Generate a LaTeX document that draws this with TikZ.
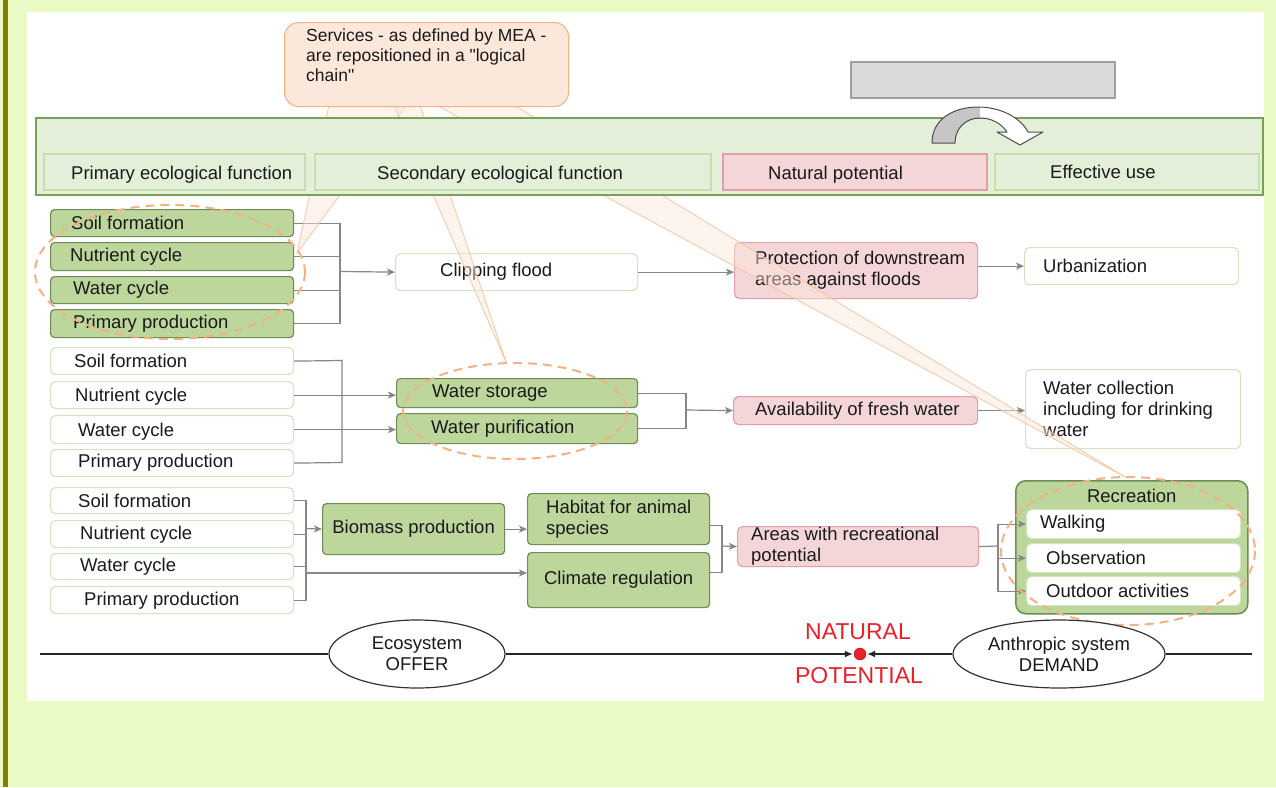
\documentclass[tikz,border=0pt]{standalone}
\usepackage{fontspec}
\setmainfont{Liberation Sans}
\newfontfamily\qfont{Liberation Sans}
\usetikzlibrary{arrows.meta,shapes.geometric,calc}
\definecolor{pagebg}{RGB}{234,250,196}
\definecolor{oliveb}{RGB}{128,128,0}
\definecolor{hdrfill}{RGB}{227,239,217}
\definecolor{hdrdraw}{RGB}{122,160,84}
\definecolor{hinner}{RGB}{197,222,172}
\definecolor{gfill}{RGB}{188,214,155}
\definecolor{gdraw}{RGB}{110,140,85}
\definecolor{pfill}{RGB}{244,214,217}
\definecolor{pdraw}{RGB}{226,160,166}
\definecolor{wdraw}{RGB}{214,228,198}
\definecolor{conncol}{RGB}{135,135,135}
\definecolor{peach}{RGB}{244,177,131}
\definecolor{callfill}{RGB}{252,232,218}
\definecolor{natred}{RGB}{232,32,42}
\definecolor{txtcol}{RGB}{26,26,26}
\newcommand\myrect[6]{%
  \pgfmathsetmacro\bw{#5-#3}%
  \pgfmathsetmacro\bh{#6-#4}%
  \node[#2, minimum width=\bw pt, minimum height=\bh pt, anchor=north west, inner sep=0pt] (#1) at (#3,#4) {};%
}
\newcommand\mybox[8]{%
  \myrect{#1}{#2}{#3}{#4}{#5}{#6}%
  \node[txt, anchor=west] (#1-t) at ([xshift=#7 pt]#1.west) {#8};%
}
\newcommand\myboxy[9]{%
  \myrect{#1}{#2}{#3}{#4}{#5}{#6}%
  \node[txt, anchor=west] (#1-t) at ([xshift=#7 pt, yshift=#8 pt]#1.west) {#9};%
}
\newcommand\myboxc[7]{%
  \myrect{#1}{#2}{#3}{#4}{#5}{#6}%
  \node[txt, align=center] (#1-t) at (#1.center) {#7};%
}
\begin{document}
\begin{tikzpicture}[x=1pt,y=-1pt, font=\fontsize{18.5}{21}\selectfont,
 txt/.style={inner sep=0pt, align=left, text=txtcol},
 gbox/.style={draw=gdraw, fill=gfill, line width=1.2pt, rounded corners=4pt},
 pbox/.style={draw=pdraw, fill=pfill, line width=1.2pt, rounded corners=5pt},
 wbox/.style={draw=wdraw, fill=white, line width=1.2pt, rounded corners=5pt},
 hin/.style={draw=hinner, fill=hdrfill, line width=1.5pt},
 hpink/.style={draw=pdraw, fill=pfill, line width=1.5pt},
 conn/.style={draw=conncol, line width=1.2pt},
 arr/.style={conn, -{Stealth[length=8pt,width=7pt,inset=2pt]}},
 dell/.style={draw=peach, dash pattern=on 9pt off 6pt, line width=2pt},
 wedgeshape/.style={fill=callfill, fill opacity=0.45, draw=peach!80, draw opacity=0.9, line width=0.8pt},
 eell/.style={ellipse, draw=black!80, fill=white, line width=1.2pt, inner sep=0pt, align=center, text=txtcol, minimum height=68pt},
 bline/.style={draw=black!85, line width=1.3pt},
 barr/.style={bline, -{Latex[length=8pt,width=7pt]}, shorten >=1pt},
]
\useasboundingbox (0,0) rectangle (1276,787);
\fill[pagebg] (0,0) rectangle (1276,787);
\fill[oliveb] (3,0) rectangle (8,787);
\fill[white] (27,12) rectangle (1264,701);

% group 1
\mybox{g1a}{gbox}{50}{209}{293}{236}{21}{Soil formation}
\mybox{g1b}{gbox}{50}{242}{293}{270}{20}{Nutrient cycle}
\mybox{g1c}{gbox}{50}{276}{293}{303}{23}{Water cycle}
\mybox{g1d}{gbox}{50}{309}{293}{337}{23}{Primary production}
\mybox{cf}{wbox}{395}{253}{637}{290}{45}{Clipping flood}
\mybox{pr}{pbox}{734}{242}{977}{298}{21}{Protection of downstream\\areas against floods}
\mybox{ur}{wbox}{1024}{247}{1238}{284}{19}{Urbanization}
% group 2
\mybox{w2a}{wbox}{50}{347}{293}{374}{24}{Soil formation}
\myboxy{w2b}{wbox}{50}{381}{293}{408}{25}{-2}{Nutrient cycle}
\myboxy{w2c}{wbox}{50}{415}{293}{443}{28}{-2}{Water cycle}
\mybox{w2d}{wbox}{50}{449}{293}{476}{28}{Primary production}
\mybox{ws}{gbox}{396}{378}{637}{407}{36}{Water storage}
\mybox{wp}{gbox}{396}{413}{637}{443}{35}{Water purification}
\mybox{av}{pbox}{733}{396}{977}{424}{22}{Availability of fresh water}
\mybox{wc}{wbox}{1025}{369}{1240}{448}{18}{Water collection\\including for drinking\\water}
% group 3
\mybox{w3a}{wbox}{50}{487}{293}{513}{28}{Soil formation}
\myboxy{w3b}{wbox}{50}{520}{293}{547}{30}{-1}{Nutrient cycle}
\mybox{w3c}{wbox}{50}{553}{293}{579}{30}{Water cycle}
\myboxy{w3d}{wbox}{50}{586}{293}{613}{34}{-1}{Primary production}
\myboxc{bio}{gbox}{322}{503}{504}{554}{Biomass production}
\mybox{hab}{gbox}{527}{493}{709}{544}{19}{Habitat for animal\\species}
\myboxc{cl}{gbox}{527}{552}{709}{607}{Climate regulation}
\mybox{ar}{pbox}{737}{526}{978}{566}{14}{Areas with recreational\\potential}
\myrect{rec}{gbox, rounded corners=10pt, line width=1.5pt}{1015}{480}{1247}{613}
\node[txt, anchor=center] (rec-t) at ([yshift=-16pt]rec.north) {Recreation};
\mybox{wk}{wbox}{1026}{509}{1240}{538}{14}{Walking}
\mybox{ob}{wbox}{1026}{543}{1240}{572}{20}{Observation}
\mybox{od}{wbox}{1026}{576}{1240}{605}{20}{Outdoor activities}

% connectors group 1
\coordinate (j1) at (340,271.5);
\foreach \n in {g1a,g1b,g1c,g1d} \draw[conn] (\n.east) -| (j1);
\draw[arr] (j1) -- (cf.west);
\draw[arr] (cf.east) -- (cf.east -| pr.west);
\draw[arr] (pr.east |- ur.west) -- (ur.west);
% connectors group 2
\coordinate (j2) at (342,360.5);
\coordinate (j2b) at (342,462.5);
\draw[conn] (w2a.east) -- (j2) -- (j2b) -- (w2d.east);
\draw[arr] (w2b.east) -- (w2b.east -| ws.west);
\draw[arr] (w2c.east) -- (w2c.east -| wp.west);
\coordinate (j2r) at (686,410);
\draw[conn] (ws.east) -| (j2r);
\draw[conn] (wp.east) -| (j2r);
\draw[arr] (j2r) -- (av.west);
\draw[arr] (av.east) -- (av.east -| wc.west);
% connectors group 3
\coordinate (j3) at (306,528.5);
\coordinate (j3b) at (306,573);
\foreach \n in {w3a,w3b,w3c,w3d} \draw[conn] (\n.east) -| (j3);
\draw[arr] (j3) -- (bio.west);
\draw[arr] (j3b) -- (j3b -| cl.west);
\draw[arr] (bio.east) -- (bio.east -| hab.west);
\coordinate (j4) at (722,546);
\draw[conn] ([yshift=-6.5pt]hab.east) -| (j4);
\draw[conn] ([yshift=7.5pt]cl.east) -| (j4);
\draw[arr] (j4) -- (ar.west);
\coordinate (j5) at (998,546);
\draw[conn] (ar.east) -- (j5);
\draw[arr] (j5) |- (wk.west);
\draw[arr] (j5) |- (ob.west);
\draw[arr] (j5) |- (od.west);

% callout wedges
\coordinate (tipA) at (297,253);
\coordinate (tipB) at (506,362);
\coordinate (tipC) at (1125,477);
\path[wedgeshape] (329,105) -- (tipA) -- (407,105) -- cycle;
\path[wedgeshape] (394,105) -- (tipB) -- (420,105) -- cycle;
\path[wedgeshape] (436,105) -- (tipC) -- (514,105) -- cycle;

% header
\myrect{hdr}{draw=hdrdraw, fill=hdrfill, line width=2pt}{35}{117}{1262}{194}
\myboxy{hP}{hin}{43}{153}{304}{189}{28}{-3}{Primary ecological function}
\myboxy{hS}{hin}{314}{153}{710}{189}{63}{-3}{Secondary ecological function}
\myboxy{hN}{hpink}{722}{153}{986}{189}{46}{-3}{Natural potential}
\mybox{hE}{hin}{994}{153}{1258}{189}{56}{Effective use}

% callout
\myrect{call}{draw=peach, fill=callfill, rounded corners=14pt, line width=1pt}{284}{22}{568}{106}
\node[txt, anchor=north west, font=\qfont\fontsize{17.5}{20}\selectfont] (call-t) at (306,29) {Services - as defined by MEA -\\are repositioned in a "logical\\chain"};

% gray bar and curved arrow
\myrect{gr}{draw=gray!75, fill=gray!30, line width=1.5pt}{850}{61}{1114}{97}
\fill[white] (932,143) .. controls (932,118) and (955,107) .. (978,107) .. controls (1000,107) and (1020,117) .. (1028,132) -- (1043,132) -- (1020,145) -- (997,132) -- (1007,132) .. controls (1001,123) and (991,118) .. (980,118) .. controls (966,118) and (955,128) .. (955,143) -- cycle;
\begin{scope}
\clip (920,100) rectangle (980,150);
\fill[gray!45] (932,143) .. controls (932,118) and (955,107) .. (978,107) .. controls (1000,107) and (1020,117) .. (1028,132) -- (1043,132) -- (1020,145) -- (997,132) -- (1007,132) .. controls (1001,123) and (991,118) .. (980,118) .. controls (966,118) and (955,128) .. (955,143) -- cycle;
\end{scope}
\draw[gray!60!black, line width=1pt, line join=round] (932,143) .. controls (932,118) and (955,107) .. (978,107) .. controls (1000,107) and (1020,117) .. (1028,132) -- (1043,132) -- (1020,145) -- (997,132) -- (1007,132) .. controls (1001,123) and (991,118) .. (980,118) .. controls (966,118) and (955,128) .. (955,143) -- cycle;

% dashed ellipses
\draw[dell] (170,272) ellipse [x radius=135, y radius=67];
\draw[dell] (515,411) ellipse [x radius=112, y radius=48];
\draw[dell] (1128,551) ellipse [x radius=127, y radius=74];

% bottom line
\node[eell, minimum width=176pt] (eco) at (417,654) {Ecosystem\\OFFER};
\node[eell, minimum width=212pt] (dem) at (1059,654) {Anthropic system\\DEMAND};
\node[circle, fill=natred, draw=natred!70!black, minimum size=12pt, inner sep=0pt] (dot) at (860,654) {};
\coordinate (lineL) at (40,654);
\coordinate (lineR) at (1252,654);
\draw[bline] (lineL) -- (eco.west);
\draw[barr] (eco.east) -- (dot.west);
\draw[barr] (dem.west) -- (dot.east);
\draw[bline] (dem.east) -- (lineR);
\node[inner sep=0pt, text=natred, font=\fontsize{23}{25}\selectfont] (nat) at (858,632) {NATURAL};
\node[inner sep=0pt, text=natred, font=\fontsize{23}{25}\selectfont] (pot) at (859,676) {POTENTIAL};
\end{tikzpicture}
\end{document}
